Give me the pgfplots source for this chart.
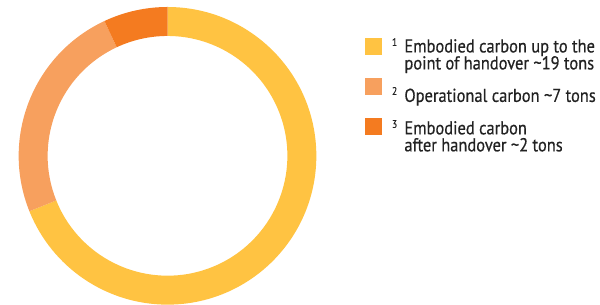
\documentclass[border=0pt]{standalone}
\usepackage{fontspec}
\setmainfont{PT Sans}
\newfontfamily\legfont[FakeStretch=0.88,FakeBold=0.5]{PT Sans}
\usepackage{pgfplots}
\usepackage{pgfplotstable}
\pgfplotsset{compat=1.18}
\definecolor{cYel}{HTML}{FFC342}
\definecolor{cLor}{HTML}{F7A05E}
\definecolor{cDor}{HTML}{F47B20}
\definecolor{txt}{HTML}{222222}
\pgfplotstableread{
id value
1 19.3
2 6.75
3 1.95
}\carbon
\pgfplotstablegetelem{0}{value}\of\carbon\pgfmathsetmacro\vA{\pgfplotsretval}
\pgfplotstablegetelem{1}{value}\of\carbon\pgfmathsetmacro\vB{\pgfplotsretval}
\pgfplotstablegetelem{2}{value}\of\carbon\pgfmathsetmacro\vC{\pgfplotsretval}
\pgfmathsetmacro\total{\vA+\vB+\vC}
\pgfmathsetmacro\angA{90-360*\vA/\total}
\pgfmathsetmacro\angB{\angA-360*\vB/\total}
\begin{document}
\begin{tikzpicture}
\begin{axis}[x=1bp,y=1bp,xmin=0,xmax=600,ymin=0,ymax=305,hide axis,clip=false]
\path (rel axis cs:0,0) rectangle (rel axis cs:1,1);
% donut (outer radius 149, inner radius 120)
\fill[cYel] (axis cs:167,149) ++(90:149bp) arc[start angle=90,end angle=\angA,radius=149bp] -- ++(\angA:-29bp) arc[start angle=\angA,end angle=90,radius=120bp] -- cycle;
\fill[cLor] (axis cs:167,149) ++(\angA:149bp) arc[start angle=\angA,end angle=\angB,radius=149bp] -- ++(\angB:-29bp) arc[start angle=\angB,end angle=\angA,radius=120bp] -- cycle;
\fill[cDor] (axis cs:167,149) ++(\angB:149bp) arc[start angle=\angB,end angle=-270,radius=149bp] -- ++(-270:-29bp) arc[start angle=-270,end angle=\angB,radius=120bp] -- cycle;
% legend
\fill[cYel] (axis cs:365,250) rectangle (axis cs:382,267);
\fill[cLor] (axis cs:365,210) rectangle (axis cs:382,227);
\fill[cDor] (axis cs:365,170) rectangle (axis cs:382,187);
\tikzset{lt/.style={anchor=base west,inner sep=0pt,text=txt,text height=12.5bp,text depth=3bp,font=\legfont\fontsize{18.7bp}{19bp}\selectfont},
         st/.style={anchor=base west,inner sep=0pt,text=txt,font=\legfont\fontsize{11bp}{12bp}\selectfont}}
\node[st] at (axis cs:391.5,259) {1};
\node[lt] at (axis cs:404,252.5) {Embodied carbon up to the};
\node[lt] at (axis cs:404,235.5) {point of handover \textasciitilde19 tons};
\node[st] at (axis cs:391.5,210) {2};
\node[lt] at (axis cs:404,203) {Operational carbon \textasciitilde7 tons};
\node[st] at (axis cs:391.5,177) {3};
\node[lt] at (axis cs:404,170.5) {Embodied carbon};
\node[lt] at (axis cs:404,153.5) {after handover \textasciitilde2 tons};
\end{axis}
\end{tikzpicture}
\end{document}
